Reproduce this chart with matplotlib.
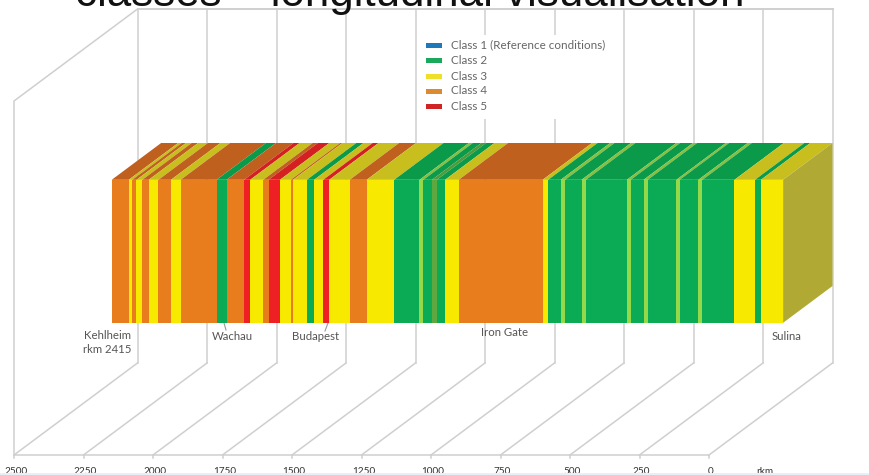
import matplotlib
matplotlib.use('Agg')
import matplotlib.pyplot as plt
from matplotlib.patches import Polygon, Rectangle

# rkm of each stretch boundary, Kehlheim to Sulina
limites = [2415, 2354, 2341, 2326, 2305, 2282, 2247, 2202, 2167, 2038, 2002, 1939,
           1917, 1870, 1851, 1810, 1771, 1763, 1713, 1687, 1654, 1633, 1559, 1498,
           1399, 1308, 1294, 1263, 1246, 1216, 1167, 865, 845, 800, 784, 725, 709,
           562, 548, 502, 487, 384, 372, 305, 290, 175, 101, 80, 0]
# class of each stretch ('m' = thin class 3 in green, 'o' = thin mixed stretch)
clases = [4, 3, 4, 3, 4, 3, 4, 3, 4, 2, 4, 5,
          3, 4, 5, 3, 4, 3, 2, 3, 5, 3, 4, 3,
          2, 'm', 2, 'o', 2, 3, 4, 3, 2, 'm', 2, 'm',
          2, 'm', 2, 'm', 2, 'm', 2, 'm', 2, 3, 2, 3]

ticks_rkm = [2500, 2250, 2000, 1750, 1500, 1250, 1000, 750, 500, 250, 0]
legend_labels = ['Class 1 (Reference conditions)', 'Class 2', 'Class 3', 'Class 4', 'Class 5']
legend_colors = ['#1f78b8', '#1aa85a', '#eee028', '#dc8a30', '#cf2424']

# pueblos: name, x, y
lugares = [('Kehlheim\nrkm 2415', 131, 342.5, 'right'), ('Wachau', 232, 337, 'center'),
           ('Budapest', 316, 336, 'center'), ('Iron Gate', 505, 333, 'center'),
           ('Sulina', 787, 336, 'center')]

color_frente = {2: '#0bab55', 3: '#f7ea00', 4: '#e87d1e', 5: '#ee2024', 'm': '#93d94a', 'o': '#5fa83f'}
color_arriba = {2: '#0a9a4a', 3: '#c8bf1e', 4: '#c0601f', 5: '#d42020', 'm': '#86c040', 'o': '#4f9a3a'}
gris = '#cfcfcf'


# rkm, depth (0 front, 1 back), height in px above the floor -> picture position
def proj(rkm, depth=0.0, h=0.0):
    x = 14 + (2500 - rkm) * 0.278 + depth * 123.5
    y = 455 - depth * 92 - h
    return x, y


fig = plt.figure(figsize=(8.69, 4.75), dpi=100)
ax = fig.add_axes([0, 0, 1, 1])
ax.set_xlim(0, 869)
ax.set_ylim(475, 0)
ax.axis('off')
plt.rcParams['font.family'] = ['Lato', 'DejaVu Sans']

# Walls and floor
alto = 354
for r in ticks_rkm:
    ax.plot(*zip(proj(r, 0), proj(r, 1)), color=gris, lw=1.1, zorder=1)
    ax.plot(*zip(proj(r, 1), proj(r, 1, alto)), color=gris, lw=1.1, zorder=1)
    ax.plot(*zip(proj(r, 0), proj(r, 0, -3)), color=gris, lw=1.1, zorder=1)
ax.plot(*zip(proj(2500, 0), proj(0, 0)), color=gris, lw=1.1, zorder=1)
ax.plot(*zip(proj(2500, 1, alto), proj(0, 1, alto)), color=gris, lw=1.4, zorder=1)
ax.plot(*zip(proj(2500, 0), proj(2500, 0, alto), proj(2500, 1, alto)), color=gris, lw=1.1, zorder=1)

# Bar
z0, z1 = 0.6, 1.0
h0, h1 = 77, 220
for i, c in enumerate(clases):
    a, b = limites[i], limites[i + 1]
    ax.add_patch(Polygon([proj(a, z0, h0), proj(b, z0, h0), proj(b, z0, h1), proj(a, z0, h1)],
                         fc=color_frente[c], ec='none', zorder=3))
    ax.add_patch(Polygon([proj(a, z0, h1), proj(b, z0, h1), proj(b, z1, h1), proj(a, z1, h1)],
                         fc=color_arriba[c], ec='none', zorder=3))
ax.add_patch(Polygon([proj(0, z0, h0), proj(0, z1, h0), proj(0, z1, h1), proj(0, z0, h1)],
                     fc='#b0aa35', ec='none', zorder=3))

# Legend
ax.add_patch(Rectangle((422, 35), 192, 84, fc='white', ec='none', zorder=2))
for lab, col, yy in zip(legend_labels, legend_colors, [45, 60, 76, 91, 106]):
    ax.add_patch(Rectangle((426, yy - 2.5), 16, 5, fc=col, ec='none', zorder=4))
    ax.text(451, yy, lab, fontsize=8.4, color='#666666', va='center', zorder=4)

# Place labels
for nombre, x, y, ali in lugares:
    ax.text(x, y, nombre, fontsize=8.2, color='#555555', ha=ali, va='center', linespacing=1.3, zorder=4)
ax.plot([224, 226], [323, 330], color='#999999', lw=0.8, zorder=2)
ax.plot([328, 325], [323, 331], color='#999999', lw=0.8, zorder=2)

# Axis labels, cut by the bottom edge
for r in ticks_rkm:
    x, _ = proj(r, 0)
    ax.text(x + 2, 471, str(r), fontsize=7.2, color='#333333', ha='center', va='center', zorder=4)
ax.text(765, 471, 'rkm', fontsize=7.2, color='#333333', ha='center', va='center', zorder=4)
ax.add_patch(Rectangle((0, 473), 869, 3, fc='#e4f1f9', ec='none', zorder=5))

# Title, mostly cut by the top edge
ax.text(410, 6, 'classes \u2013 longitudinal visualisation', fontsize=31.6, family='Liberation Sans',
        color='#111111', ha='center', va='baseline', zorder=6, clip_on=False)

fig.savefig('out.png', dpi=100)
